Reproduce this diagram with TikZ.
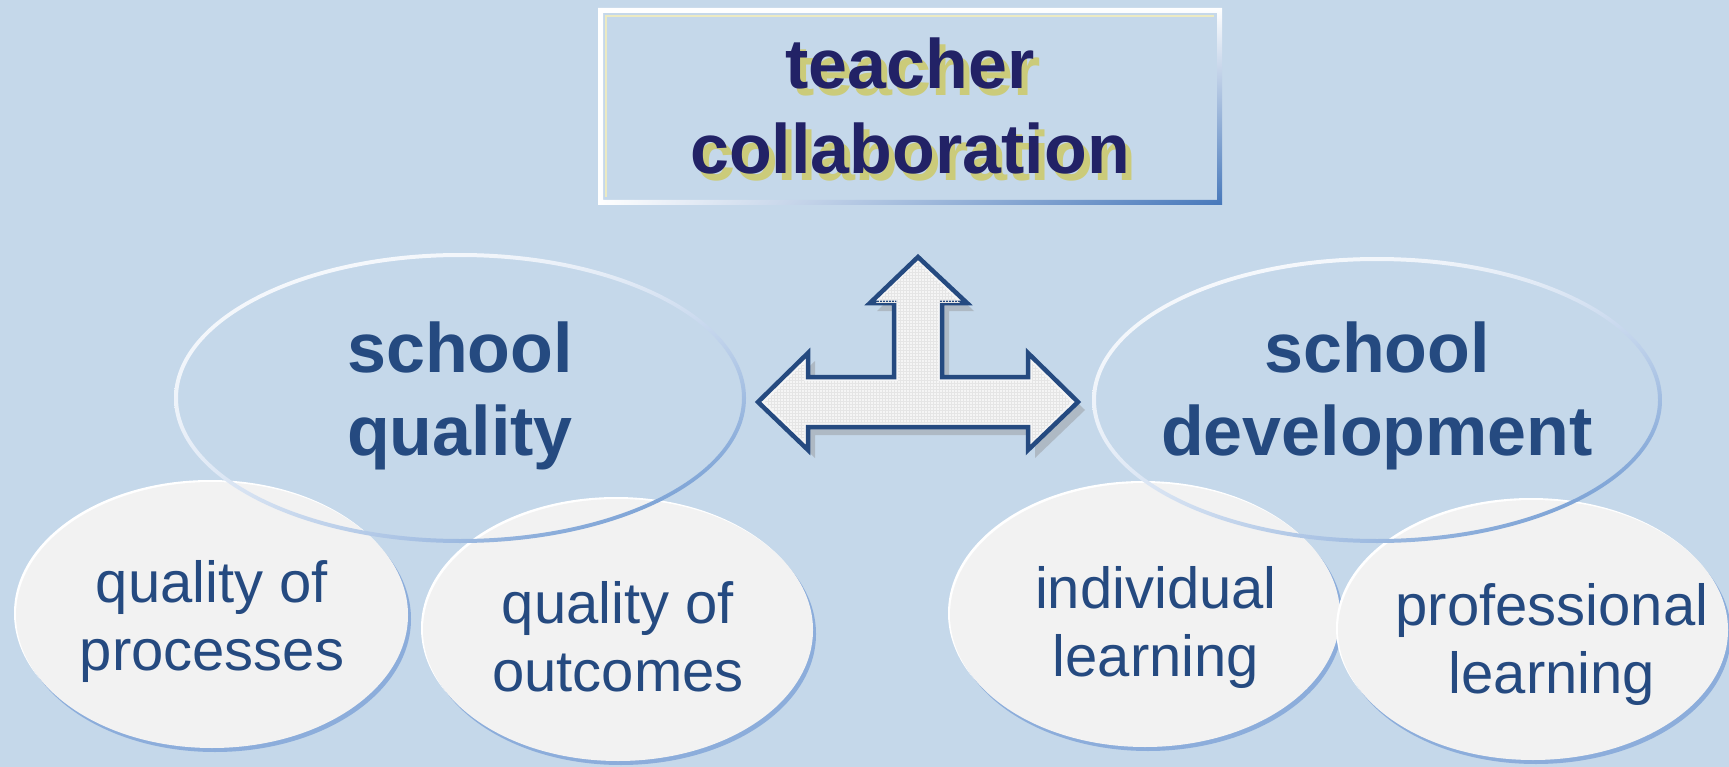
\documentclass[tikz,border=0pt]{standalone}
\usepackage{fontspec}
\setmainfont{Liberation Sans}
\usetikzlibrary{patterns,shadings}

\definecolor{bgblue}{HTML}{C5D8EA}
\definecolor{navy}{HTML}{222266}
\definecolor{titleshade}{HTML}{CBCB7A}
\definecolor{textblue}{HTML}{254A80}
\definecolor{bubble}{HTML}{F2F2F2}
\definecolor{rimblue}{HTML}{8CADDB}
\definecolor{edgeblue}{HTML}{5B8BCB}
\definecolor{frameblue}{HTML}{4677BA}
\definecolor{arrowline}{HTML}{254A80}
\definecolor{innerline}{HTML}{ECEAC2}

% white oval with a soft bluish rim: centre x, centre y, x radius, y radius
\newcommand{\bubbleat}[4]{%
  \fill[white] (#1-2,#2-2) ellipse [x radius=#3, y radius=#4];
  \fill[rimblue] (#1+3,#2+4) ellipse [x radius=#3, y radius=#4];
  \fill[bubble] (#1,#2) ellipse [x radius=#3, y radius=#4];
}

\begin{document}
\begin{tikzpicture}[x=1pt,y=-1pt,
  titletext/.style={font=\fontsize{70}{85}\selectfont\bfseries, text=navy, align=center, inner sep=0pt},
  bigtext/.style={font=\fontsize{70}{83}\selectfont\bfseries, text=textblue, align=center, inner sep=0pt},
  smalltext/.style={font=\fontsize{58}{68}\selectfont, text=textblue, align=center, inner sep=0pt},
  ringshade/.style={even odd rule, upper left=white, upper right=white!85!edgeblue,
                    lower left=white!80!edgeblue, lower right=edgeblue},
  arrowbody/.style={fill=white!96!black, draw=arrowline, line width=4.5pt, line join=miter},
  arrowshadow/.style={fill=black!45, opacity=0.4}]

\useasboundingbox (0,0) rectangle (1729,767);
\fill[bgblue] (0,0) rectangle (1729,767);

% lower row of white ovals
\bubbleat{212}{615}{196}{133}
\bubbleat{618}{630}{195}{131}
\bubbleat{1145}{615}{195}{132}
\bubbleat{1533}{630}{195}{130}

% open rings of the two main ovals
\shade[ringshade] (460,398) ellipse [x radius=286, y radius=145]
                  (460,398) ellipse [x radius=282, y radius=141];
\shade[ringshade] (1377,400) ellipse [x radius=285, y radius=143]
                  (1377,400) ellipse [x radius=281, y radius=139];

% labels
\node[bigtext] (qual) at (460,396) {school\\quality};
\node[bigtext] (dev) at (1377,396) {school\\development};
\node[smalltext] (proc) at (212,621) {quality of\\processes};
\node[smalltext] (outc) at (618,637) {quality of\\outcomes};
\node[smalltext] (indiv) at (1156,627) {individual\\learning};
\node[smalltext] (prof) at (1552,644) {professional\\learning};

% three-way arrow
\begin{scope}[shift={(7,8)}]
\fill[arrowshadow] (918,257) -- (967,303) -- (942,303) -- (942,377) -- (1028,377) -- (1028,353)
  -- (1078,402) -- (1028,450) -- (1028,427) -- (808,427) -- (808,450) -- (758,402)
  -- (808,353) -- (808,377) -- (894,377) -- (894,303) -- (870,303) -- cycle;
\end{scope}
\filldraw[arrowbody] (918,257) -- (967,303) -- (942,303) -- (942,377) -- (1028,377) -- (1028,353)
  -- (1078,402) -- (1028,450) -- (1028,427) -- (808,427) -- (808,450) -- (758,402)
  -- (808,353) -- (808,377) -- (894,377) -- (894,303) -- (870,303) -- cycle;
\fill[pattern=grid, pattern color=black!10] (918,262) -- (960,303) -- (938,303) -- (938,381) -- (1032,381) -- (1032,363)
  -- (1071,402) -- (1032,441) -- (1032,423) -- (804,423) -- (804,441) -- (765,402)
  -- (804,363) -- (804,381) -- (898,381) -- (898,303) -- (876,303) -- cycle;

% title frame
\shade[even odd rule, upper left=white, upper right=white, lower left=white, lower right=frameblue]
  (598,8) rectangle (1222,205) (603,13) rectangle (1217,200);
\draw[innerline, line width=1.5pt] (606,197) -- (606,16) -- (1214,16);

\node[titletext, text=titleshade] (titleshadow) at (916,112.5) {teacher\\collaboration};
\node[titletext] (title) at (910,105.5) {teacher\\collaboration};

\end{tikzpicture}
\end{document}
